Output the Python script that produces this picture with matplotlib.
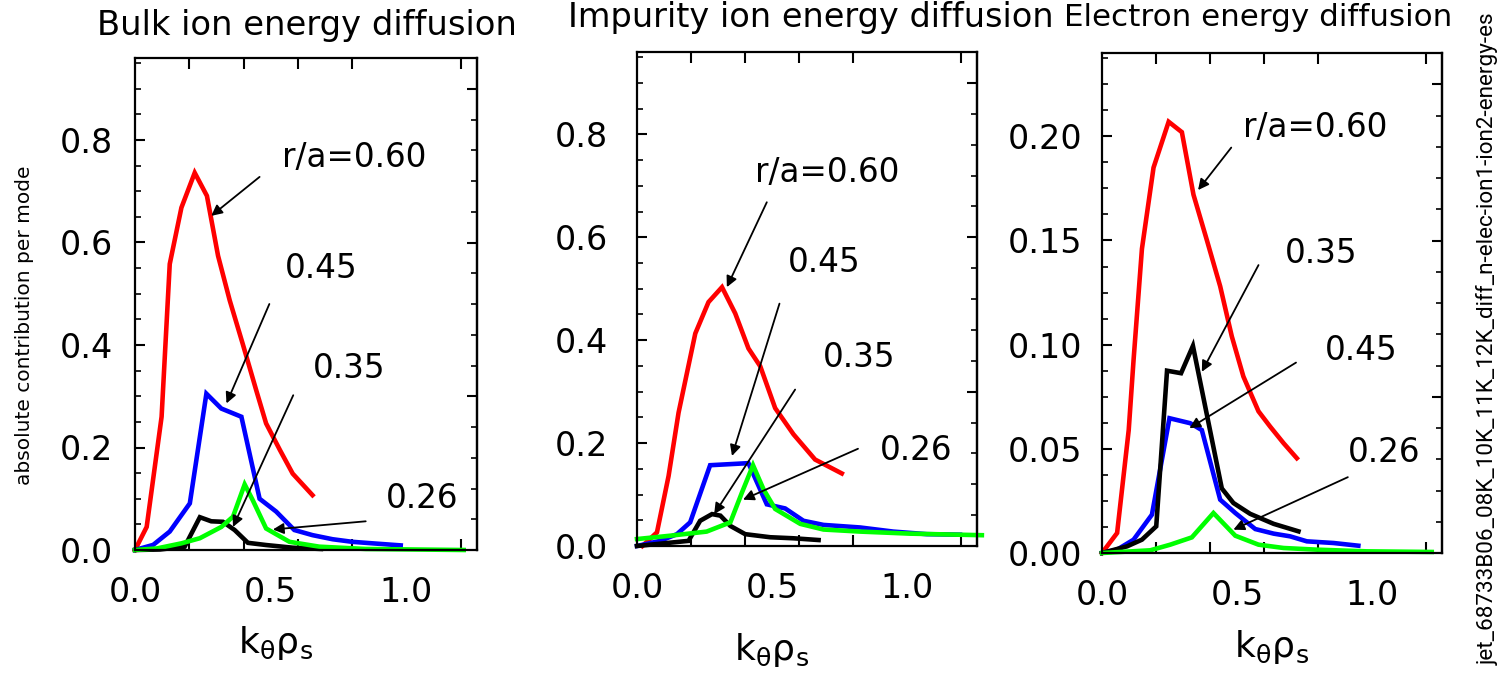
import matplotlib.pyplot as plt
import numpy as np
from matplotlib.ticker import FixedLocator, FixedFormatter, NullFormatter

plt.rcParams['font.family'] = ['DejaVu Sans']
plt.rcParams['mathtext.fontset'] = 'dejavusans'

# ---- data (k_theta rho_s, contribution) ----
# Bulk ion energy diffusion
bulk_k_060 = [0, 0.043, 0.098, 0.128, 0.171, 0.22, 0.265, 0.306, 0.349, 0.397, 0.447, 0.483, 0.534, 0.581, 0.654]
bulk_y_060 = [0, 0.045, 0.26, 0.558, 0.668, 0.736, 0.691, 0.574, 0.487, 0.402, 0.311, 0.247, 0.195, 0.149, 0.107]
bulk_k_045 = [0, 0.067, 0.128, 0.202, 0.263, 0.318, 0.392, 0.459, 0.52, 0.587, 0.654, 0.728, 0.80, 0.875, 0.979]
bulk_y_045 = [0, 0.01, 0.036, 0.091, 0.305, 0.276, 0.26, 0.10, 0.075, 0.039, 0.029, 0.021, 0.016, 0.013, 0.009]
bulk_k_035 = [0, 0.092, 0.183, 0.239, 0.281, 0.324, 0.367, 0.416, 0.483, 0.581, 0.685]
bulk_y_035 = [0, 0.001, 0.0065, 0.064, 0.056, 0.055, 0.039, 0.014, 0.0097, 0.0045, 0.002]
bulk_k_026 = [0, 0.08, 0.171, 0.239, 0.318, 0.361, 0.404, 0.434, 0.483, 0.569, 0.679, 0.85, 1.211]
bulk_y_026 = [0, 0.003, 0.013, 0.023, 0.045, 0.065, 0.128, 0.097, 0.042, 0.016, 0.0065, 0.002, 0.0]

# Impurity ion energy diffusion
imp_k_060 = [0.02, 0.074, 0.117, 0.154, 0.185, 0.216, 0.265, 0.315, 0.364, 0.413, 0.457, 0.512, 0.58, 0.66, 0.759]
imp_y_060 = [0, 0.0265, 0.136, 0.259, 0.336, 0.413, 0.474, 0.503, 0.452, 0.384, 0.349, 0.268, 0.217, 0.168, 0.141]
imp_k_045 = [0, 0.086, 0.148, 0.197, 0.271, 0.413, 0.481, 0.549, 0.617, 0.691, 0.827, 0.95, 1.074, 1.197]
imp_y_045 = [0, 0.01, 0.023, 0.046, 0.157, 0.161, 0.081, 0.073, 0.049, 0.041, 0.036, 0.028, 0.023, 0.022]
imp_k_035 = [0, 0.191, 0.234, 0.278, 0.309, 0.346, 0.401, 0.494, 0.58, 0.673]
imp_y_035 = [0, 0.01, 0.049, 0.062, 0.059, 0.039, 0.023, 0.017, 0.015, 0.0116]
imp_k_026 = [0, 0.123, 0.258, 0.346, 0.389, 0.43, 0.469, 0.512, 0.605, 0.691, 0.827, 1.012, 1.278]
imp_y_026 = [0.0135, 0.02, 0.028, 0.046, 0.104, 0.157, 0.11, 0.072, 0.043, 0.032, 0.028, 0.024, 0.021]

# Electron energy diffusion
el_k_060 = [0, 0.056, 0.099, 0.117, 0.148, 0.191, 0.247, 0.296, 0.339, 0.389, 0.438, 0.481, 0.524, 0.58, 0.623, 0.673, 0.722]
el_y_060 = [0, 0.0096, 0.059, 0.0927, 0.146, 0.185, 0.207, 0.202, 0.172, 0.150, 0.128, 0.104, 0.0847, 0.068, 0.0607, 0.0527, 0.0455]
el_k_045 = [0, 0.056, 0.117, 0.185, 0.25, 0.327, 0.37, 0.438, 0.494, 0.568, 0.636, 0.697, 0.759, 0.858, 0.95]
el_y_045 = [0, 0.0016, 0.0064, 0.0184, 0.0647, 0.0623, 0.059, 0.0256, 0.0192, 0.0115, 0.0093, 0.008, 0.0056, 0.0048, 0.0035]
el_k_035 = [0, 0.093, 0.148, 0.201, 0.241, 0.293, 0.337, 0.444, 0.487, 0.549, 0.636, 0.728]
el_y_035 = [0, 0.0032, 0.0064, 0.0128, 0.0875, 0.0863, 0.0994, 0.031, 0.024, 0.0188, 0.014, 0.0104]
el_k_026 = [0, 0.179, 0.253, 0.333, 0.413, 0.494, 0.58, 0.673, 0.796, 0.981, 1.222]
el_y_026 = [0, 0.0013, 0.004, 0.0075, 0.0192, 0.0083, 0.004, 0.0024, 0.0016, 0.0008, 0.0005]

titles = ['Bulk ion energy diffusion', 'Impurity ion energy diffusion', 'Electron energy diffusion']
radius_labels = ['r/a=0.60', '0.45', '0.35', '0.26']
x_tick_labels = ['0.0', '0.5', '1.0']
colors = ['#ff0000', '#0000ff', '#000000', '#00ff00']

panels = [
    dict(rect=[135, 58, 477, 550], ymax=0.96, fmt='%.1f',
         ymaj=np.arange(0, 0.81, 0.2), ymin=np.arange(0, 0.96, 0.05),
         rmaj=[0.3, 0.6, 0.9], rmin=np.arange(0, 0.96, 0.06), ypad=16,
         series=[(bulk_k_060, bulk_y_060), (bulk_k_045, bulk_y_045),
                 (bulk_k_035, bulk_y_035), (bulk_k_026, bulk_y_026)],
         # label: text pos, arrow tail, arrow head (data coords)
         notes=[((0.542, 0.766), (0.459, 0.728), (0.281, 0.652)),
                ((0.554, 0.549), (0.495, 0.480), (0.337, 0.286)),
                ((0.654, 0.354), (0.583, 0.302), (0.361, 0.045)),
                ((0.924, 0.101), (0.850, 0.056), (0.508, 0.040))]),
    dict(rect=[637, 52, 977, 546], ymax=0.96, fmt='%.1f',
         ymaj=np.arange(0, 0.81, 0.2), ymin=np.arange(0, 0.96, 0.05),
         rmaj=[0.3, 0.6, 0.9], rmin=np.arange(0, 0.96, 0.06), ypad=21,
         series=[(imp_k_060, imp_y_060), (imp_k_045, imp_y_045),
                 (imp_k_035, imp_y_035), (imp_k_026, imp_y_026)],
         notes=[((0.438, 0.726), (0.481, 0.668), (0.333, 0.503)),
                ((0.560, 0.550), (0.528, 0.471), (0.352, 0.175)),
                ((0.690, 0.366), (0.586, 0.304), (0.286, 0.062)),
                ((0.901, 0.186), (0.819, 0.189), (0.393, 0.090))]),
    dict(rect=[1102, 53, 1442, 553], ymax=0.24, fmt='%.2f',
         ymaj=np.arange(0, 0.201, 0.05), ymin=np.arange(0, 0.24, 0.0125),
         rmaj=[0.075, 0.15, 0.225], rmin=np.arange(0, 0.24, 0.015), ypad=14,
         series=[(el_k_060, el_y_060), (el_k_045, el_y_045),
                 (el_k_035, el_y_035), (el_k_026, el_y_026)],
         notes=[((0.522, 0.2042), (0.479, 0.1946), (0.356, 0.1742)),
                ((0.827, 0.0971), (0.719, 0.0914), (0.324, 0.0599)),
                ((0.679, 0.1438), (0.580, 0.1382), (0.370, 0.0870)),
                ((0.913, 0.0480), (0.911, 0.0364), (0.487, 0.0112))]),
]

W, H = 1508, 679
fig = plt.figure(figsize=(W / 100, H / 100), dpi=100)

for p in panels:
    l, t, r, b = p['rect']
    ax = fig.add_axes([l / W, 1 - b / H, (r - l) / W, (b - t) / H])
    for (k, y), c in zip(p['series'], colors):
        ax.plot(k, y, color=c, lw=3.3, clip_on=False, solid_joinstyle='miter')
    ax.set_xlim(0, 1.26)
    ax.set_ylim(0, p['ymax'])
    for s in ax.spines.values():
        s.set_linewidth(1.6)

    # x: labels at 0, .5, 1 ; ticks every 0.2
    ax.xaxis.set_major_locator(FixedLocator([0, 0.5, 1.0]))
    ax.xaxis.set_major_formatter(FixedFormatter(x_tick_labels))
    ax.xaxis.set_minor_locator(FixedLocator(np.arange(0.2, 1.25, 0.2)))
    ax.tick_params(axis='x', which='major', length=0, pad=19, labelsize=24)
    ax.tick_params(axis='x', which='minor', direction='in', length=8, width=1.5,
                   top=True, bottom=True)

    # y left
    ax.yaxis.set_major_locator(FixedLocator(p['ymaj']))
    ax.yaxis.set_major_formatter(lambda v, pos, f=p['fmt']: f % v)
    ax.yaxis.set_minor_locator(FixedLocator(p['ymin']))
    ax.yaxis.set_minor_formatter(NullFormatter())
    ax.tick_params(axis='y', which='major', direction='in', length=7, width=1.5,
                   pad=p['ypad'], labelsize=24, right=False)
    ax.tick_params(axis='y', which='minor', direction='in', length=4, width=1.2,
                   right=False)

    # y right, different tick spacing
    ry = ax.secondary_yaxis('right')
    ry.yaxis.set_major_locator(FixedLocator(p['rmaj']))
    ry.yaxis.set_minor_locator(FixedLocator(p['rmin']))
    ry.yaxis.set_major_formatter(NullFormatter())
    ry.yaxis.set_minor_formatter(NullFormatter())
    ry.tick_params(which='major', direction='in', length=7, width=1.5)
    ry.tick_params(which='minor', direction='in', length=4, width=1.2)
    ry.spines['right'].set_linewidth(1.6)

    for lab, (txy, tail, head) in zip(radius_labels, p['notes']):
        ax.annotate('', xy=head, xytext=tail,
                    arrowprops=dict(arrowstyle='-|>', color='k', lw=1.3,
                                    mutation_scale=16, shrinkA=0, shrinkB=0))
        ax.text(txy[0], txy[1], lab, fontsize=23.5, ha='left', va='center')

# titles
fig.text(307 / W, 1 - 25 / H, titles[0], fontsize=24.3, ha='center', va='center')
fig.text(811 / W, 1 - 18 / H, titles[1], fontsize=24.2, ha='center', va='center')
fig.text(1258 / W, 1 - 18 / H, titles[2], fontsize=22.3, ha='center', va='center')

# x labels
xlab = r'$\mathrm{k_{\theta}\rho_{s}}$'
fig.text(276 / W, 1 - 643 / H, xlab, fontsize=26, ha='center', va='center')
fig.text(772 / W, 1 - 650 / H, xlab, fontsize=26, ha='center', va='center')
fig.text(1272 / W, 1 - 647 / H, xlab, fontsize=26, ha='center', va='center')

# y label
fig.text(25 / W, 1 - 325 / H, 'absolute contribution per mode', fontsize=14.5,
         rotation=90, ha='center', va='center')

# file tag on the right
fig.text(1488 / W, 1 - 339 / H, 'jet_68733B06_08K_10K_11K_12K_diff_n-elec-ion1-ion2-energy-es',
         family=['Roboto', 'DejaVu Sans'], fontsize=16.2,
         rotation=90, ha='center', va='center')

fig.savefig('out.png', dpi=100)
